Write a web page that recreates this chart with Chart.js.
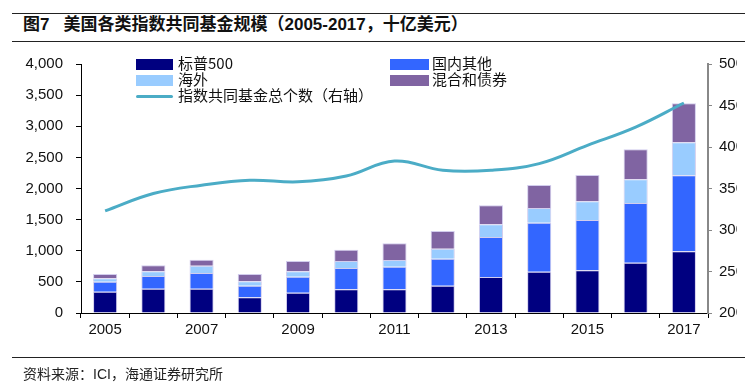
<!DOCTYPE html>
<html>
<head>
<meta charset="utf-8">
<script src="https://cdn.jsdelivr.net/npm/chart.js@4.4.1/dist/chart.umd.min.js"></script>
<style>
    body { margin: 0; width: 755px; height: 388px; background: #fff; position: relative; overflow: hidden;
        font-family: "Liberation Sans", Arial, "Noto Sans CJK SC", sans-serif; }
    .rule { position: absolute; left: 12px; width: 733px; height: 1px; background: #222; }
    .title { position: absolute; left: 23px; top: 10px; font-size: 17px; font-weight: bold; color: #111;
        font-family: "Liberation Sans", Arial, "Noto Sans CJK SC", sans-serif; white-space: nowrap; }
    .title .num { margin-right: 14px; }
    .source { position: absolute; left: 23px; top: 363px; font-size: 14px; color: #222; white-space: nowrap;
        font-family: "Liberation Sans", Arial, "Noto Sans CJK SC", sans-serif; }
    #wrap { position: absolute; left: 0; top: 0; width: 737px; height: 388px; overflow: hidden; }
    .leg { position: absolute; font-size: 15px; color: #111; white-space: nowrap; line-height: 16px;
        font-family: "Noto Sans CJK SC", sans-serif; }
    .sw { position: absolute; }
</style>
</head>
<body>
<div class="rule" style="top:13px"></div>
<div class="title"><span class="num">图7</span>美国各类指数共同基金规模（2005-2017，十亿美元）</div>
<div class="rule" style="top:41px"></div>

<div id="wrap"><canvas id="chart" width="780" height="388"></canvas></div>

<div id="legend"></div>

<div class="rule" style="top:357px"></div>
<div class="source">资料来源：ICI，海通证券研究所</div>

<script>
// categories
const years = ['2005', '2006', '2007', '2008', '2009', '2010', '2011', '2012', '2013', '2014', '2015', '2016', '2017'];

// stacked bars (billion USD)
const sp500 = [342, 390, 390, 252, 326, 380, 380, 439, 578, 664, 685, 808, 991];
const domesticOther = [161, 204, 252, 186, 257, 343, 364, 433, 643, 786, 809, 959, 1220];
const overseas = [54, 75, 118, 71, 86, 112, 107, 161, 203, 236, 300, 380, 530];
const mixedBond = [69, 97, 96, 117, 166, 182, 268, 284, 305, 370, 422, 482, 627];

// number of index funds (right axis)
const fundCount = [323, 344, 354, 360, 358, 365, 383, 372, 372, 380, 402, 424, 453];

const seriesNames = ['标普500', '国内其他', '海外', '混合和债券', '指数共同基金总个数（右轴）'];
const colors = ['#000080', '#3366FF', '#99CCFF', '#8064A2', '#4BACC6'];

(() => {
    'use strict';

    const AXIS_FONT = { family: '"Liberation Sans", Arial, sans-serif', size: 15 };

    function barSet(label, data, color) {
        return {
            type: 'bar',
            label: label,
            data: data,
            backgroundColor: color,
            borderColor: 'rgba(205,200,235,0.9)',
            borderWidth: 1,
            barPercentage: 0.5,
            categoryPercentage: 1.0,
            yAxisID: 'y',
            stack: 'funds',
            order: 1
        };
    }

    function init() {
        const ctx = document.getElementById('chart').getContext('2d');

        new Chart(ctx, {
            data: {
                labels: years,
                datasets: [
                    barSet(seriesNames[0], sp500, colors[0]),
                    barSet(seriesNames[1], domesticOther, colors[1]),
                    barSet(seriesNames[2], overseas, colors[2]),
                    barSet(seriesNames[3], mixedBond, colors[3]),
                    {
                        type: 'line',
                        label: seriesNames[4],
                        data: fundCount,
                        borderColor: colors[4],
                        borderWidth: 3,
                        pointRadius: 0,
                        tension: 0.4,
                        fill: false,
                        yAxisID: 'y1',
                        order: 0
                    }
                ]
            },
            options: {
                responsive: false,
                animation: false,
                layout: { padding: { left: 0, right: 0, top: 64, bottom: 45 } },
                plugins: {
                    legend: { display: false },
                    tooltip: { enabled: false }
                },
                scales: {
                    x: {
                        stacked: true,
                        offset: true,
                        grid: {
                            offset: true,
                            drawOnChartArea: false,
                            drawTicks: true,
                            tickLength: 5,
                            color: '#000'
                        },
                        border: { color: '#000', width: 1 },
                        ticks: {
                            color: '#111',
                            font: AXIS_FONT,
                            padding: 3,
                            maxRotation: 0,
                            autoSkip: false,
                            callback: function (value, index) {
                                return index % 2 === 0 ? this.getLabelForValue(value) : '';
                            }
                        },
                        afterFit: scale => { scale.height = 30; }
                    },
                    y: {
                        stacked: true,
                        position: 'left',
                        min: 0,
                        max: 4000,
                        grid: {
                            drawOnChartArea: false,
                            drawTicks: true,
                            tickLength: 5,
                            color: '#000'
                        },
                        border: { color: '#000', width: 1 },
                        ticks: {
                            stepSize: 500,
                            color: '#111',
                            font: AXIS_FONT,
                            padding: 13,
                            callback: v => v.toLocaleString('en-US')
                        },
                        afterFit: scale => { scale.width = 81; }
                    },
                    y1: {
                        position: 'right',
                        min: 200,
                        max: 500,
                        grid: {
                            drawOnChartArea: false,
                            drawTicks: true,
                            tickLength: 4,
                            color: '#888'
                        },
                        border: { color: '#888', width: 2 },
                        ticks: {
                            stepSize: 50,
                            color: '#111',
                            font: AXIS_FONT,
                            padding: 7
                        },
                        afterFit: scale => { scale.width = 72; }
                    }
                }
            }
        });

        buildLegend();
    }

    // legend laid out in two columns over the plot, like the source
    function buildLegend() {
        const slots = [
            { i: 0, x: 136, y: 64 },
            { i: 1, x: 390, y: 64 },
            { i: 2, x: 136, y: 80 },
            { i: 3, x: 390, y: 80 },
            { i: 4, x: 136, y: 96 }
        ];
        const legend = document.getElementById('legend');
        legend.innerHTML = slots.map(s => {
            const isLine = s.i === 4;
            const swH = isLine ? 3 : 11;
            const swW = s.x === 136 ? 37 : 39;
            const textX = s.x === 136 ? 178 : 432;
            return `
                <div class="sw" style="left:${s.x}px;top:${s.y - swH / 2}px;width:${swW}px;height:${swH}px;background:${colors[s.i]};${isLine ? 'border-radius:2px;' : ''}"></div>
                <div class="leg" style="left:${textX}px;top:${s.y - 9}px">${seriesNames[s.i]}</div>
            `;
        }).join('');
    }

    document.addEventListener('DOMContentLoaded', init);
})();
</script>
</body>
</html>
